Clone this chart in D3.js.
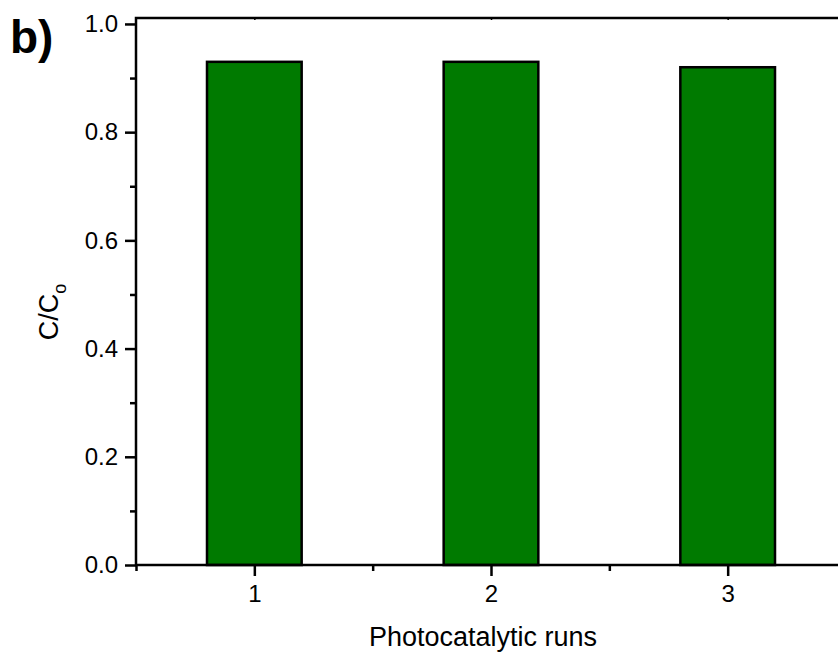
<!DOCTYPE html>
<html>
<head>
<meta charset="utf-8">
<script src="https://cdn.jsdelivr.net/npm/d3@7"></script>
<style>
  body { margin: 0; background: #fff; }
  svg text { font-family: "Liberation Sans", Arial, sans-serif; }
</style>
</head>
<body>
<svg id="chart" width="838" height="658"></svg>
<script>
const runs = [1, 2, 3];
const ratio = [0.93, 0.93, 0.92];
const yTicks = [0, 0.2, 0.4, 0.6, 0.8, 1.0];
const yMinor = [0.1, 0.3, 0.5, 0.7, 0.9];
const xMinor = [0.5, 1.5, 2.5, 3.5];

const plotLeft = 136, plotTop = 18, plotBottom = 565;
const x = d3.scaleLinear().domain([0.5, 3.5]).range([plotLeft, plotLeft + 710]);
const y = d3.scaleLinear().domain([0, 1.011]).range([plotBottom, plotTop]);

const svg = d3.select("#chart");

// bars
svg.selectAll("rect.bar")
    .data(runs)
    .enter().append("rect")
    .attr("class", "bar")
    .attr("x", d => x(d - 0.2))
    .attr("y", (d, i) => y(ratio[i]))
    .attr("width", x(1.2) - x(0.8))
    .attr("height", (d, i) => y(0) - y(ratio[i]))
    .attr("fill", "#007a00")
    .attr("stroke", "#000")
    .attr("stroke-width", 2.5);

// frame
svg.append("rect")
    .attr("x", x(0.5)).attr("y", y(1.011))
    .attr("width", x(3.5) - x(0.5)).attr("height", y(0) - y(1.011))
    .attr("fill", "none").attr("stroke", "#000").attr("stroke-width", 2.5);

// y axis
const yAxis = svg.append("g")
    .attr("transform", `translate(${plotLeft},0)`)
    .call(d3.axisLeft(y).tickValues(yTicks).tickSize(11).tickFormat(d3.format(".1f")));
yAxis.select(".domain").remove();
yAxis.selectAll(".tick line").attr("stroke-width", 2.5);
yAxis.selectAll("text").attr("font-size", 24).attr("fill", "#000").attr("x", -18);
svg.append("g")
    .attr("transform", `translate(${plotLeft},0)`)
    .call(d3.axisLeft(y).tickValues(yMinor).tickSize(6).tickFormat(""))
    .call(g => g.select(".domain").remove())
    .selectAll(".tick line").attr("stroke-width", 2.5);

// x axis
const xAxis = svg.append("g")
    .attr("transform", `translate(0,${plotBottom})`)
    .call(d3.axisBottom(x).tickValues(runs).tickSize(11).tickFormat(d3.format("d")));
xAxis.select(".domain").remove();
xAxis.selectAll(".tick line").attr("stroke-width", 2.5);
xAxis.selectAll("text").attr("font-size", 24).attr("fill", "#000").attr("y", 20);
svg.append("g")
    .attr("transform", `translate(0,${plotBottom})`)
    .call(d3.axisBottom(x).tickValues(xMinor).tickSize(6).tickFormat(""))
    .call(g => g.select(".domain").remove())
    .selectAll(".tick line").attr("stroke-width", 2.5);

// top axis small ticks (inward)
svg.append("g")
    .attr("transform", `translate(0,${plotTop})`)
    .call(d3.axisBottom(x).tickValues(runs).tickSize(2).tickFormat(""))
    .call(g => g.select(".domain").remove())
    .selectAll(".tick line").attr("stroke-width", 1.5);

// axis titles
svg.append("text")
    .attr("x", 483).attr("y", 646)
    .attr("text-anchor", "middle")
    .attr("font-size", 27)
    .text("Photocatalytic runs");

const yl = svg.append("text")
    .attr("transform", "translate(58,312) rotate(-90)")
    .attr("text-anchor", "middle")
    .attr("font-size", 27);
yl.append("tspan").text("C/C");
yl.append("tspan").attr("font-size", 18).attr("dy", 8).text("o");

svg.append("text")
    .attr("x", 10).attr("y", 53)
    .attr("font-size", 46)
    .attr("font-weight", "bold")
    .text("b)");
</script>
</body>
</html>
